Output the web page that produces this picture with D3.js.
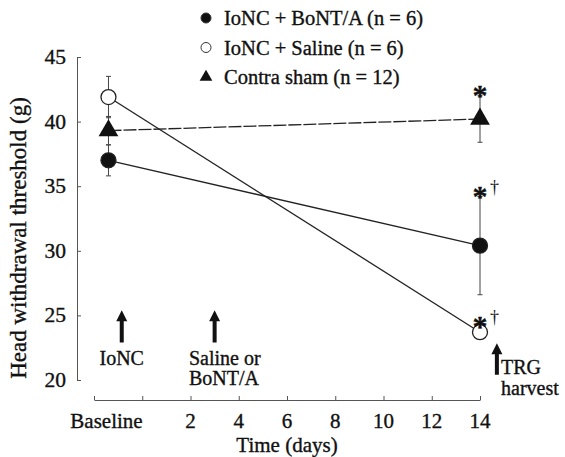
<!DOCTYPE html>
<html><head><meta charset="utf-8">
<script src="https://cdn.jsdelivr.net/npm/d3@7/dist/d3.min.js"></script>
<style>
html,body{margin:0;padding:0;background:#fff;}
</style></head>
<body><svg id="c" width="565" height="457"></svg>
<script>
// ---- data ----
const seriesNames = ["IoNC + BoNT/A (n = 6)", "IoNC + Saline (n = 6)", "Contra sham (n = 12)"];
const seriesMarkers = ["filled", "open", "triangle"];
const timeDays = [-1.4, 14];                 // baseline, day 14
const bontMean = [37.0, 30.4];
const bontErr  = [1.2, 3.8];
const salineMean = [41.9, 23.7];
const salineErr  = [1.6, 0.5];
const shamMean = [39.3, 40.2];
const shamErr  = [1.1, 1.8];
const sigLabels = ["*†", "*†", "*"];          // day-14 significance marks
const yTicks = [20, 25, 30, 35, 40, 45];
const xTicks = [-2, 0, 2, 4, 6, 8, 10, 12, 14];
const xTickLabels = ["", "", "2", "4", "6", "8", "10", "12", "14"];
const eventDays = [-0.85, 3, 14.7];
const eventLabels = [["IoNC"], ["Saline or", "BoNT/A"], ["TRG", "harvest"]];

const FONT = "'Liberation Serif', 'Times New Roman', serif";
// ---- scales ----
const svg = d3.select("#c");
const x = d3.scaleLinear().domain([-2, 14]).range([94, 480]);
const y = d3.scaleLinear().domain([20, 45]).range([380, 57]);
const axisColor = "#555";
function txt(g) {
  return g.append("text").style("font-family", FONT).attr("fill", "#111")
    .attr("stroke", "#111").attr("stroke-width", 0.35);
}

// y axis (ticks inward)
const yAx = svg.append("g").attr("transform", `translate(77,0)`)
  .call(d3.axisRight(y).tickValues(yTicks).tickSize(4).tickSizeOuter(0).tickFormat(""));
yAx.selectAll("path,line").attr("stroke", axisColor).attr("stroke-width", 1);
yTicks.forEach(d => txt(svg).attr("x", 66).attr("y", y(d) + 7)
  .attr("text-anchor", "end").attr("font-size", 21.5).text(d));

// x axis (ticks upward)
const xAx = svg.append("g").attr("transform", `translate(0,400)`)
  .call(d3.axisTop(x).tickValues(xTicks).tickSize(4).tickSizeOuter(0).tickFormat(""));
xAx.selectAll("path,line").attr("stroke", axisColor).attr("stroke-width", 1);
xTicks.forEach((d, i) => txt(svg).attr("x", x(d)).attr("y", 428).attr("text-anchor", "middle")
  .attr("font-size", 21).text(xTickLabels[i]));
txt(svg).attr("x", x(timeDays[0]) - 2).attr("y", 428).attr("text-anchor", "middle")
  .attr("font-size", 21).text("Baseline");
txt(svg).attr("x", 287).attr("y", 452).attr("text-anchor", "middle")
  .attr("font-size", 21).text("Time (days)");
txt(svg).attr("transform", "translate(26,238) rotate(-90)")
  .attr("text-anchor", "middle").attr("font-size", 23).text("Head withdrawal threshold (g)");

// ---- series ----
const series = [
  {mean: bontMean, err: bontErr, marker: "filled", dash: null},
  {mean: salineMean, err: salineErr, marker: "open", dash: null},
  {mean: shamMean, err: shamErr, marker: "triangle", dash: "13,2"}
];
const line = d3.line().x((d, i) => x(timeDays[i])).y(d => y(d));
const gErr = svg.append("g"), gLine = svg.append("g"), gMark = svg.append("g");
function drawMarker(g, type, cx, cy, r) {
  if (type === "triangle") {
    g.append("path").attr("d", d3.symbol(d3.symbolTriangle, r * r * 3.0)())
      .attr("transform", `translate(${cx},${cy})`).attr("fill", "#111");
  } else {
    g.append("circle").attr("cx", cx).attr("cy", cy).attr("r", r)
      .attr("fill", type === "filled" ? "#111" : "#fff")
      .attr("stroke", "#222").attr("stroke-width", 1.3);
  }
}
series.forEach(s => {
  s.mean.forEach((m, i) => {
    const cx = x(timeDays[i]);
    gErr.append("line").attr("x1", cx).attr("x2", cx)
      .attr("y1", y(m - s.err[i])).attr("y2", y(m + s.err[i]))
      .attr("stroke", "#444").attr("stroke-width", 1);
    [m - s.err[i], m + s.err[i]].forEach(v =>
      gErr.append("line").attr("x1", cx - 2.5).attr("x2", cx + 2.5)
        .attr("y1", y(v)).attr("y2", y(v)).attr("stroke", "#444").attr("stroke-width", 1));
  });
  gLine.append("path").attr("d", line(s.mean)).attr("fill", "none")
    .attr("stroke", "#222").attr("stroke-width", 1.3)
    .attr("stroke-dasharray", s.dash);
  s.mean.forEach((m, i) => drawMarker(gMark, s.marker, x(timeDays[i]), y(m), 7.5));
});

// significance marks above day-14 points
series.forEach((s, k) => {
  const top = s.marker === "open" ? y(s.mean[1]) - 8 : y(s.mean[1] + s.err[1]) - 3;
  const lab = sigLabels[k];
  txt(svg).attr("x", x(14)).attr("y", top + 12).attr("text-anchor", "middle")
    .attr("font-size", 30).attr("font-weight", "bold").text("*");
  if (lab.includes("†")) {
    txt(svg).attr("x", x(14) + 10).attr("y", top - 1).attr("stroke-width", 0)
      .attr("font-size", 18).text("†");
  }
});

// ---- event arrows ----
function arrow(cx, yTip, yBot) {
  const p = d3.path();
  p.moveTo(cx, yTip);
  p.lineTo(cx + 5.5, yTip + 11);
  p.lineTo(cx + 2, yTip + 11);
  p.lineTo(cx + 2, yBot);
  p.lineTo(cx - 2, yBot);
  p.lineTo(cx - 2, yTip + 11);
  p.lineTo(cx - 5.5, yTip + 11);
  p.closePath();
  svg.append("path").attr("d", p.toString()).attr("fill", "#111");
}
// IoNC
arrow(x(eventDays[0]), y(25.4), y(22.9));
txt(svg).attr("x", x(eventDays[0])).attr("y", 365).attr("text-anchor", "middle")
  .attr("font-size", 20).text(eventLabels[0][0]);
// Saline / BoNT
arrow(x(eventDays[1]), y(25.4), y(22.9));
eventLabels[1].forEach((t, i) => txt(svg).attr("x", 189).attr("y", 365 + i * 20)
  .attr("font-size", 20).text(t));
// TRG harvest
arrow(x(eventDays[2]), y(22.85), y(20.4));
eventLabels[2].forEach((t, i) => txt(svg).attr("x", 501).attr("y", 374 + i * 21)
  .attr("font-size", 20).text(t));

// ---- legend ----
const lg = svg.append("g");
seriesNames.forEach((n, i) => {
  const cy = 18 + i * 29.5;
  if (seriesMarkers[i] === "triangle") {
    lg.append("path").attr("d", d3.symbol(d3.symbolTriangle, 70)())
      .attr("transform", `translate(206,${cy})`).attr("fill", "#111");
  } else {
    lg.append("circle").attr("cx", 206).attr("cy", cy).attr("r", 5)
      .attr("fill", seriesMarkers[i] === "filled" ? "#111" : "#fff")
      .attr("stroke", "#333").attr("stroke-width", 1);
  }
  txt(lg).attr("x", 224).attr("y", cy + 7).attr("font-size", 20.5).text(n);
});
</script></body></html>
